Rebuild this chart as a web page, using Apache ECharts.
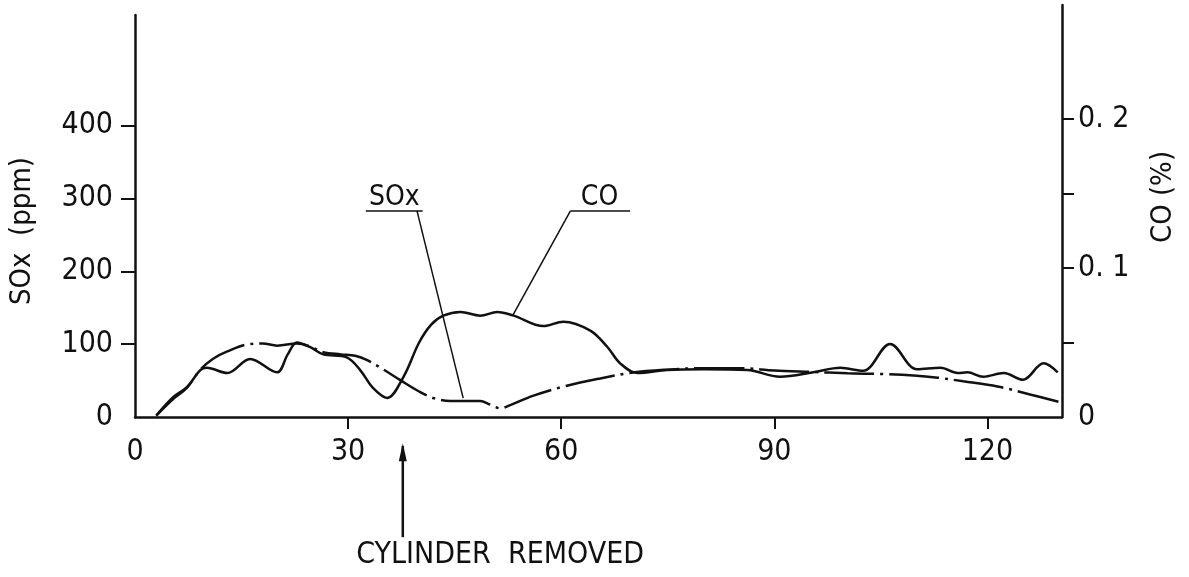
<!DOCTYPE html>
<html>
<head>
<meta charset="utf-8">
<script src="https://cdn.jsdelivr.net/npm/echarts@6/dist/echarts.min.js"></script>
<style>
  html, body { margin: 0; padding: 0; background: #fff; }
  #chart { width: 1189px; height: 577px; }
</style>
</head>
<body>
<div id="chart"></div>
<script>
// time axis (minutes)
var xTicks = [30, 60, 90, 120];
var xLabels = [0, 30, 60, 90, 120];
var soxTicks = [100, 200, 300, 400];
var soxLabels = [0, 100, 200, 300, 400];
var coTicks = [0.05, 0.1, 0.15, 0.2];
var coLabels = [0, 0.1, 0.2];

// SOx (ppm), smooth dash-dot curve
var soxTime = [3, 5.4, 7.3, 9.2, 11, 13, 16, 18, 20, 22.8, 24.6, 26.5, 29, 31, 32.7, 35, 37.3, 40, 42, 44.4, 47, 48.6, 50, 51.4, 53, 56, 60.8, 65.5, 70.1, 74.9, 79.6, 85, 90, 95, 100.3, 105, 109.6, 113, 116.6, 121.4, 126, 130];
var soxPpm = [2, 25, 40, 65, 80, 90, 100, 101, 98, 101, 97, 89, 86, 84, 78, 65, 51, 35, 26, 22, 22, 22, 17, 12, 17, 29, 43, 53, 61, 65, 67, 67, 64, 62, 60, 59, 57, 54, 49, 42, 31, 21];

// CO (%), wavy solid curve
var coTime = [3, 5.4, 7.3, 9.2, 10.1, 13, 16.2, 20, 21.5, 22.8, 24.6, 26.5, 29.8, 31.7, 33.5, 35.5, 37.8, 40, 41.7, 43.4, 45.8, 48.6, 51, 53.3, 57.5, 60.3, 64.1, 66.5, 68.3, 70.7, 74.9, 80, 86.2, 90.8, 95.5, 99.3, 102.5, 106.3, 110.1, 113.4, 115.8, 117.2, 119.4, 122.3, 125, 127.9, 129.9];
var coPercent = [0.001, 0.0134, 0.020, 0.0315, 0.033, 0.0295, 0.039, 0.030, 0.042, 0.050, 0.047, 0.042, 0.040, 0.0315, 0.0195, 0.0128, 0.027, 0.050, 0.062, 0.068, 0.0705, 0.068, 0.0705, 0.068, 0.061, 0.064, 0.058, 0.047, 0.036, 0.0295, 0.0315, 0.032, 0.0315, 0.027, 0.030, 0.033, 0.031, 0.049, 0.032, 0.033, 0.0295, 0.030, 0.027, 0.0295, 0.025, 0.036, 0.030];

var ink = '#111';
var font = '"DejaVu Sans Condensed", "Liberation Sans Narrow", "Liberation Sans", sans-serif';

function pairs(xs, ys) {
  return xs.map(function (x, i) { return [x, ys[i]]; });
}

var chart = echarts.init(document.getElementById('chart'), null, { renderer: 'canvas' });

var option = {
  backgroundColor: '#fff',
  animation: false,
  grid: [
    { left: 135, right: 127, top: 15, bottom: 160 },
    { left: 135, right: 127, top: 5, bottom: 160 }
  ],
  xAxis: [
    {
      type: 'value', gridIndex: 0, min: 0, max: 130.5,
      axisLine: { onZero: false, lineStyle: { color: ink, width: 2.5 } },
      axisTick: { show: true, length: 12, lineStyle: { color: ink, width: 2 }, customValues: xTicks },
      axisLabel: { color: ink, fontSize: 30, fontFamily: font, margin: 20, customValues: xLabels },
      splitLine: { show: false }
    },
    { type: 'value', gridIndex: 1, min: 0, max: 130.5, show: false }
  ],
  yAxis: [
    {
      type: 'value', gridIndex: 0, min: 0, max: 552,
      axisLine: { show: true, onZero: false, lineStyle: { color: ink, width: 2.5 } },
      axisTick: { show: true, length: 14, lineStyle: { color: ink, width: 2 }, customValues: soxTicks },
      axisLabel: { color: ink, fontSize: 30, fontFamily: font, margin: 22, customValues: soxLabels },
      splitLine: { show: false }
    },
    {
      type: 'value', gridIndex: 1, position: 'right', min: 0, max: 0.2765,
      axisLine: { show: true, onZero: false, lineStyle: { color: ink, width: 2.5 } },
      axisTick: { show: true, inside: false, length: 12, lineStyle: { color: ink, width: 2 }, customValues: coTicks },
      axisLabel: {
        color: ink, fontSize: 30, fontFamily: font, margin: 16, customValues: coLabels,
        formatter: function (v) { return v === 0 ? '0' : v.toFixed(1).replace('.', '. '); }
      },
      splitLine: { show: false }
    }
  ],
  series: [
    {
      name: 'SOx', type: 'line', xAxisIndex: 0, yAxisIndex: 0,
      data: pairs(soxTime, soxPpm),
      smooth: 0.35, showSymbol: false,
      lineStyle: { color: ink, width: 2.5, type: [50, 6, 3, 6] }
    },
    {
      name: 'CO', type: 'line', xAxisIndex: 1, yAxisIndex: 1,
      data: pairs(coTime, coPercent),
      smooth: 0.35, showSymbol: false,
      lineStyle: { color: ink, width: 2.5 }
    }
  ]
};

chart.setOption(option);

// annotations anchored in SOx / time coordinates
function px(x, y) {
  return chart.convertToPixel({ xAxisIndex: 0, yAxisIndex: 0 }, [x, y]);
}
function seg(a, b, w) {
  var p = px(a[0], a[1]), q = px(b[0], b[1]);
  return { type: 'line', shape: { x1: p[0], y1: p[1], x2: q[0], y2: q[1] }, style: { stroke: ink, lineWidth: w || 1.5 }, silent: true };
}
function label(txt, at, size) {
  var p = px(at[0], at[1]);
  return { type: 'text', x: p[0], y: p[1], style: { text: txt, fill: ink, font: size + 'px ' + font, align: 'center', verticalAlign: 'middle' }, silent: true };
}

var arrowTip = px(37.7, -36);
var graphics = [
  label('SOx', [36.5, 301], 28),
  seg([32.5, 283], [40.5, 283], 1.5),
  seg([39.7, 283], [46.2, 26], 1.5),
  label('CO', [65.4, 301], 28),
  seg([61.3, 283], [69.7, 283], 1.5),
  seg([61.3, 283], [53.2, 140], 1.5),
  seg([37.7, -40], [37.7, -165], 2.5),
  {
    type: 'polygon', silent: true,
    shape: { points: [[arrowTip[0], arrowTip[1]], [arrowTip[0] - 4, arrowTip[1] + 18], [arrowTip[0] + 4, arrowTip[1] + 18]] },
    style: { fill: ink }
  },
  label('CYLINDER  REMOVED', [51.4, -190], 30),
  {
    type: 'text', x: 22, y: 231, rotation: Math.PI / 2, silent: true,
    style: { text: 'SOx  (ppm)', fill: ink, font: '29px ' + font, align: 'center', verticalAlign: 'middle' }
  },
  {
    type: 'text', x: 1163, y: 197, rotation: Math.PI / 2, silent: true,
    style: { text: 'CO (%)', fill: ink, font: '29px ' + font, align: 'center', verticalAlign: 'middle' }
  }
];

chart.setOption({ graphic: graphics });

window.addEventListener('resize', chart.resize);
</script>
</body>
</html>
